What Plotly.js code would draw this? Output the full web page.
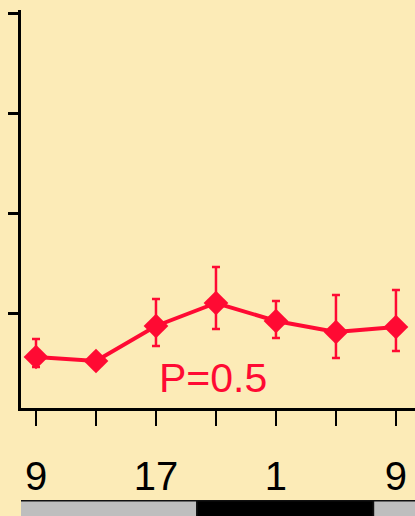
<!DOCTYPE html>
<html>
<head>
<meta charset="utf-8">
<script src="https://cdn.plot.ly/plotly-3.0.1.min.js"></script>
<style>
  html, body { margin: 0; padding: 0; background: #FCEBB7; }
  #chart { width: 415px; height: 516px; }
</style>
</head>
<body>
<div id="chart"></div>
<script>
// Clock time (hours, continuing past midnight: 25 = 1h, 33 = 9h)
var hours = [9, 13, 17, 21, 25, 29, 33];
var values = [5.6, 5.2, 8.7, 11.0, 9.2, 8.1, 8.6];
var errUp = [1.8, 0, 2.7, 3.6, 2.0, 3.7, 3.7];
var errDown = [1.0, 0, 2.0, 2.6, 1.7, 2.6, 2.4];
var tickHours = [9, 13, 17, 21, 25, 29, 33];
var tickLabels = ['9', '', '17', '', '1', '', '9'];
var yTicks = [10, 20, 30, 40];
var pLabel = 'P=0.5';
// Light/dark phases
var phaseStart = [7.93, 19.73, 31.5];
var phaseEnd = [19.73, 31.5, 35];
var phaseDark = [false, true, false];

var red = '#FF0A33';
var trace = {
  x: hours, y: values, type: 'scatter', mode: 'lines+markers',
  line: {color: red, width: 4},
  marker: {symbol: 'diamond', size: 19, color: red},
  error_y: {type: 'data', symmetric: false, array: errUp, arrayminus: errDown,
            color: red, thickness: 2.5, width: 4},
  cliponaxis: false, hoverinfo: 'none'
};

var shapes = phaseStart.map(function (s, i) {
  return {type: 'rect', xref: 'x', yref: 'paper', x0: s, x1: phaseEnd[i],
          y0: -0.233, y1: -0.33, fillcolor: phaseDark[i] ? '#000000' : '#BEBEBE',
          line: {color: '#111111', width: 1.5}, layer: 'above'};
});

var layout = {
  width: 415, height: 516,
  margin: {l: 21, r: 0, t: 10, b: 108, pad: 0},
  paper_bgcolor: '#FCEBB7', plot_bgcolor: '#FCEBB7',
  showlegend: false,
  font: {family: 'Liberation Sans, Arial, sans-serif', color: '#000'},
  xaxis: {range: [8, 34.27], showline: true, linecolor: '#000', linewidth: 3,
          ticks: 'outside', ticklen: 15, tickwidth: 2.5, tickcolor: '#000',
          tickvals: tickHours, ticktext: tickLabels, showgrid: false, zeroline: false,
          tickfont: {size: 40, color: '#000'}, ticklabelstandoff: 16, fixedrange: true},
  yaxis: {range: [0.5, 40.3], showline: true, linecolor: '#000', linewidth: 3,
          ticks: 'outside', ticklen: 10, tickwidth: 3, tickcolor: '#000',
          tickvals: yTicks, showticklabels: false, showgrid: false, zeroline: false,
          fixedrange: true},
  annotations: [{x: 20.8, y: 3.5, xref: 'x', yref: 'y', text: pLabel, showarrow: false,
                 font: {size: 41, color: red}, xanchor: 'center', yanchor: 'middle'}],
  shapes: shapes
};

Plotly.newPlot('chart', [trace], layout, {displayModeBar: false, staticPlot: true});
</script>
</body>
</html>
